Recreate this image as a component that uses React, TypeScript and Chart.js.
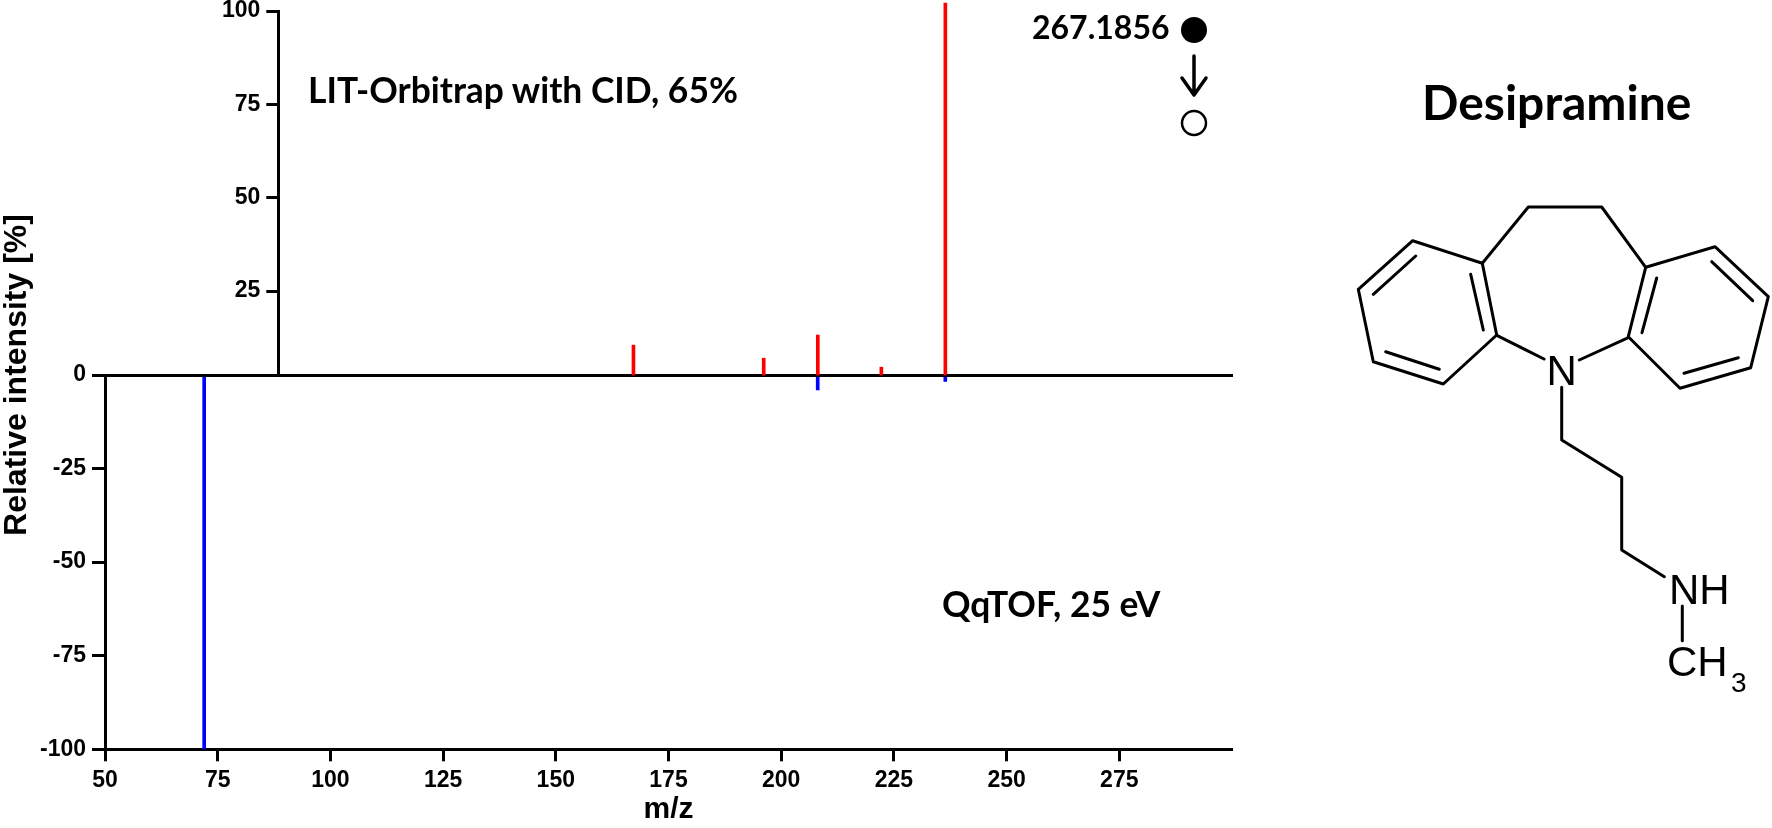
import React, { useEffect, useRef } from "react";
import { Chart, registerables } from "chart.js";

Chart.register(...registerables);

const orbitrapMz = [167.2, 196.1, 208.1, 222.2, 236.4];
const orbitrapIntensity = [10.5, 7.0, 13.2, 4.6, 102.1];
const qtofMz = [72, 208.1, 236.4];
const qtofIntensity = [-100, -4, -1.7];
const upperTicks = [25, 50, 75, 100];
const lowerTicks = [-100, -75, -50, -25, 0];
const mzTicks = [50, 75, 100, 125, 150, 175, 200, 225, 250, 275];

const W = 1772;
const H = 828;
const TICK_FONT = { family: "'Liberation Sans'", size: 23, weight: "bold" as const };
const BOND = { stroke: "#000", strokeWidth: 3, fill: "none", strokeLinecap: "round" as const, strokeLinejoin: "round" as const };

const pick = (list: number[]) => (scale: any) => {
  scale.ticks = list.map((value) => ({ value }));
};

const points = (xs: number[], ys: number[]) => xs.map((x, i) => ({ x, y: ys[i] }));

function upperConfig(): any {
  return {
    type: "bar",
    data: {
      datasets: [
        {
          data: points(orbitrapMz, orbitrapIntensity),
          backgroundColor: "#ff0000",
          barThickness: 3,
          base: 2.5,
          clip: false,
        },
      ],
    },
    options: {
      animation: false,
      responsive: false,
      events: [],
      layout: { padding: { top: 11, right: W - 1232, left: 0, bottom: 0 } },
      plugins: { legend: { display: false }, tooltip: { enabled: false } },
      scales: {
        x: {
          type: "linear",
          offset: false,
          min: 88.4,
          max: 300,
          afterFit: (s: any) => { s.height = H - 375; s.paddingLeft = 0; s.paddingRight = 0; },
          grid: { display: false, offset: false },
          border: { color: "#000", width: 3 },
          ticks: { display: false },
        },
        y: {
          type: "linear",
          min: 2.5,
          max: 100,
          afterBuildTicks: pick(upperTicks),
          afterFit: (s: any) => { s.width = 278.3; s.paddingTop = 0; s.paddingBottom = 0; },
          grid: { drawOnChartArea: false, tickLength: 12, tickColor: "#000", tickWidth: 3 },
          border: { color: "#000", width: 3 },
          ticks: { color: "#000", font: TICK_FONT, padding: 6 },
        },
      },
    },
  };
}

function lowerConfig(): any {
  return {
    type: "bar",
    data: {
      datasets: [
        {
          data: points(qtofMz, qtofIntensity),
          backgroundColor: "#0000ff",
          barThickness: 3,
        },
      ],
    },
    options: {
      animation: false,
      responsive: false,
      events: [],
      layout: { padding: { top: 375, right: W - 1232, left: 0, bottom: 0 } },
      plugins: { legend: { display: false }, tooltip: { enabled: false } },
      scales: {
        x: {
          type: "linear",
          offset: false,
          min: 50,
          max: 300,
          afterBuildTicks: pick(mzTicks),
          afterFit: (s: any) => { s.height = H - 749.3; s.paddingLeft = 0; s.paddingRight = 0; },
          grid: { drawOnChartArea: false, offset: false, tickLength: 12, tickColor: "#000", tickWidth: 3 },
          border: { color: "#000", width: 3 },
          ticks: { color: "#000", font: TICK_FONT, padding: 6, maxRotation: 0, autoSkip: false },
          title: {
            display: true,
            text: "m/z",
            color: "#000",
            font: { family: "'Liberation Sans'", size: 30, weight: "bold" },
            padding: { top: 2, bottom: 0 },
          },
        },
        y: {
          type: "linear",
          min: -100,
          max: 0,
          afterBuildTicks: pick(lowerTicks),
          afterFit: (s: any) => { s.width = 105; s.paddingTop = 0; s.paddingBottom = 0; },
          grid: {
            z: 1,
            color: (c: any) => (c.tick && c.tick.value === 0 ? "#000" : "rgba(0,0,0,0)"),
            lineWidth: 3,
            tickLength: 13,
            tickColor: "#000",
            tickWidth: 3,
          },
          border: { color: "#000", width: 3, z: 2 },
          ticks: { color: "#000", font: TICK_FONT, padding: 6, z: 2 },
        },
      },
    },
  };
}

const BONDS = [
  "M1412.7 240.7 L1482.3 263.3 L1496.7 335 L1443.3 384 L1373.3 361.7 L1358.3 289.3 Z",
  "M1415.7 256 L1373.3 294.3",
  "M1470.7 274.3 L1483.3 330",
  "M1385.7 351.7 L1439.3 369.3",
  "M1482.3 263.3 L1528.3 207 L1601.7 207 L1645.7 267.3",
  "M1645.7 267.3 L1715 246.7 L1768.3 296.7 L1750.7 367.7 L1680 388.3 L1628.3 336.7 Z",
  "M1656.7 278 L1642 332.7",
  "M1711.7 261.7 L1752.7 300.7",
  "M1738.3 357.7 L1684 373.3",
  "M1497.3 335.7 L1544 359",
  "M1628.3 337.7 L1579.3 360",
  "M1561.7 387.3 L1561.7 440 L1621.7 477.3 L1621.7 550 L1664.3 576.7",
  "M1682.3 606 L1682.3 640.7",
];

const CALIBRI = { fontFamily: "Lato", fontWeight: 700, fill: "#000" };
const ARIAL = { fontFamily: "'Liberation Sans'", fill: "#000" };

export default function App() {
  const upperRef = useRef<HTMLCanvasElement>(null);
  const lowerRef = useRef<HTMLCanvasElement>(null);
  useEffect(() => {
    const lower = new Chart(lowerRef.current!, lowerConfig());
    const upper = new Chart(upperRef.current!, upperConfig());
    return () => {
      upper.destroy();
      lower.destroy();
    };
  }, []);
  const layer: React.CSSProperties = { position: "absolute", left: 0, top: 0, display: "block" };
  return (
    <div style={{ position: "fixed", left: 0, top: 0, width: W, height: H, background: "#fff", overflow: "hidden" }}>
      <canvas ref={lowerRef} width={W} height={H} style={layer} />
      <canvas ref={upperRef} width={W} height={H} style={layer} />
      <svg width={W} height={H} style={layer}>
        <text x={15} y={375} textAnchor="middle" dominantBaseline="central" transform="rotate(-90 15 375)" fontSize={32} fontWeight={700} {...ARIAL}>
          Relative intensity [%]
        </text>
        <text x={308} y={103} fontSize={35.4} {...CALIBRI}>LIT-Orbitrap with CID, 65%</text>
        <text x={942} y={617} fontSize={35.4} {...CALIBRI}>QqTOF, 25 eV</text>
        <text x={1032} y={39} fontSize={32} {...CALIBRI}>267.1856</text>
        <text x={1422} y={120} fontSize={48} {...CALIBRI}>Desipramine</text>
        <circle cx={1194} cy={30} r={13} fill="#000" />
        <path d="M1194 56 L1194 94 M1182 78 L1194 95 L1206 78" {...BOND} strokeWidth={3.5} />
        <circle cx={1194} cy={123} r={12} fill="#fff" stroke="#000" strokeWidth={2.5} />
        {BONDS.map((d) => <path key={d} d={d} {...BOND} />)}
        <text x={1561.7} y={385} textAnchor="middle" fontSize={42} {...ARIAL}>N</text>
        <text x={1669} y={604} fontSize={42} {...ARIAL}>NH</text>
        <text x={1667} y={676} fontSize={42} {...ARIAL}>CH</text>
        <text x={1731} y={692} fontSize={28} {...ARIAL}>3</text>
      </svg>
    </div>
  );
}
